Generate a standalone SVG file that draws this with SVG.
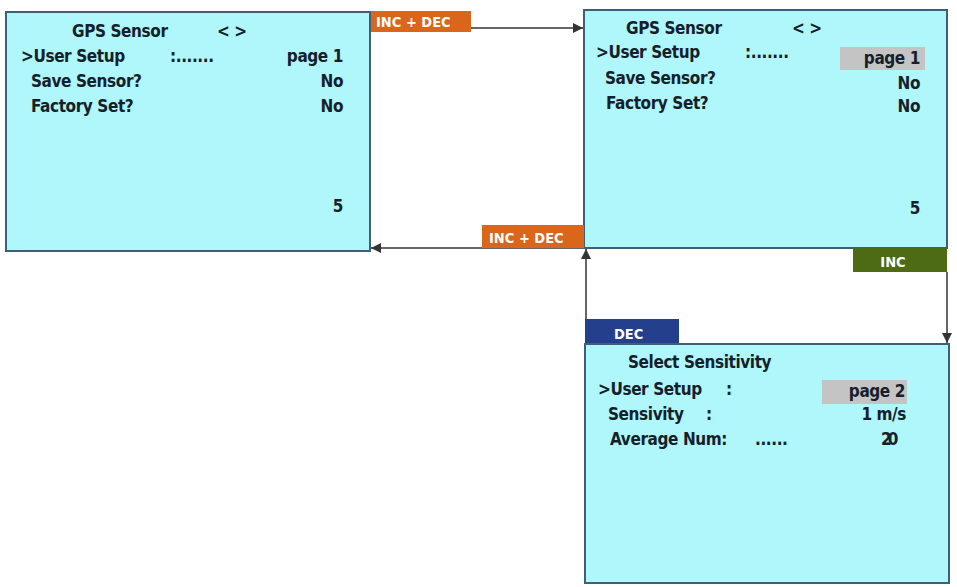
<svg xmlns="http://www.w3.org/2000/svg" width="957" height="587" viewBox="0 0 957 587">
<style>
.box{fill:#aff7fb;stroke:#3f5e78;stroke-width:2}
.t{font-family:"DejaVu Sans Condensed","Liberation Sans",sans-serif;font-weight:bold;font-size:17px;letter-spacing:-0.4px;fill:#15202a}
.r{text-anchor:end}
.lb{font-family:"DejaVu Sans Condensed","Liberation Sans",sans-serif;font-weight:bold;font-size:14.5px;fill:#ffffff}
.hl{fill:#c4c4c4}
.c{stroke:#333333;stroke-width:1.5;fill:none}
</style>
<defs>
<marker id="ah" viewBox="0 0 10 10" refX="10" refY="5" markerWidth="12" markerHeight="10" markerUnits="userSpaceOnUse" orient="auto">
<path d="M0,0 L10,5 L0,10 z" fill="#333333"/>
</marker>
</defs>
<rect width="957" height="587" fill="#ffffff"/>
<g id="connectors">
<line class="c" x1="471" y1="28" x2="583" y2="28" marker-end="url(#ah)"/>
<line class="c" x1="584" y1="248" x2="371" y2="248" marker-end="url(#ah)"/>
<line class="c" x1="947" y1="272" x2="947" y2="343" marker-end="url(#ah)"/>
<line class="c" x1="586" y1="319" x2="586" y2="249" marker-end="url(#ah)"/>
</g>
<g id="node-gps1">
<rect class="box" x="6" y="12" width="364" height="239"/>
<text class="t" x="72" y="37">GPS Sensor</text>
<text class="t" x="217" y="37">&lt; &gt;</text>
<text class="t" x="21" y="62">&gt;User Setup</text>
<text class="t" x="170" y="62">:.......</text>
<text class="t r" x="343" y="62">page 1</text>
<text class="t" x="31" y="87">Save Sensor?</text>
<text class="t r" x="343" y="87">No</text>
<text class="t" x="31" y="112">Factory Set?</text>
<text class="t r" x="343" y="112">No</text>
<text class="t r" x="343" y="212">5</text>
</g>
<g id="label-incdec1">
<rect x="371" y="11" width="100" height="21" fill="#d9661a"/>
<text class="lb" x="376" y="27">INC + DEC</text>
</g>
<g id="node-gps2">
<rect class="box" x="584" y="10" width="363" height="238"/>
<rect class="hl" x="840" y="47" width="85" height="23"/>
<text class="t" x="626" y="34">GPS Sensor</text>
<text class="t" x="792" y="34">&lt; &gt;</text>
<text class="t" x="596" y="58">&gt;User Setup</text>
<text class="t" x="745" y="58">:.......</text>
<text class="t r" x="920" y="64">page 1</text>
<text class="t" x="605" y="84">Save Sensor?</text>
<text class="t r" x="920" y="89">No</text>
<text class="t" x="606" y="109">Factory Set?</text>
<text class="t r" x="920" y="112">No</text>
<text class="t r" x="920" y="214">5</text>
</g>
<g id="label-incdec2">
<rect x="482" y="225" width="102" height="23" fill="#d9661a"/>
<text class="lb" x="489" y="243">INC + DEC</text>
</g>
<g id="label-inc">
<rect x="853" y="248" width="94" height="24" fill="#4d6a14"/>
<text class="lb" x="893" y="267" text-anchor="middle">INC</text>
</g>
<g id="label-dec">
<rect x="585" y="319" width="94" height="25" fill="#243f8c"/>
<text class="lb" x="614" y="339">DEC</text>
</g>
<g id="node-sensitivity">
<rect class="box" x="585" y="344" width="364" height="239"/>
<rect class="hl" x="822" y="380" width="85" height="24"/>
<text class="t" x="628" y="368">Select Sensitivity</text>
<text class="t" x="598" y="395">&gt;User Setup</text>
<text class="t" x="726" y="395">:</text>
<text class="t r" x="905" y="397">page 2</text>
<text class="t" x="608" y="420">Sensivity</text>
<text class="t" x="706" y="420">:</text>
<text class="t r" x="906" y="420">1 m/s</text>
<text class="t" x="610" y="445">Average Num:</text>
<text class="t" x="755" y="445">......</text>
<text class="t" x="881" y="445" style="letter-spacing:-4px">20</text>
</g>
</svg>
